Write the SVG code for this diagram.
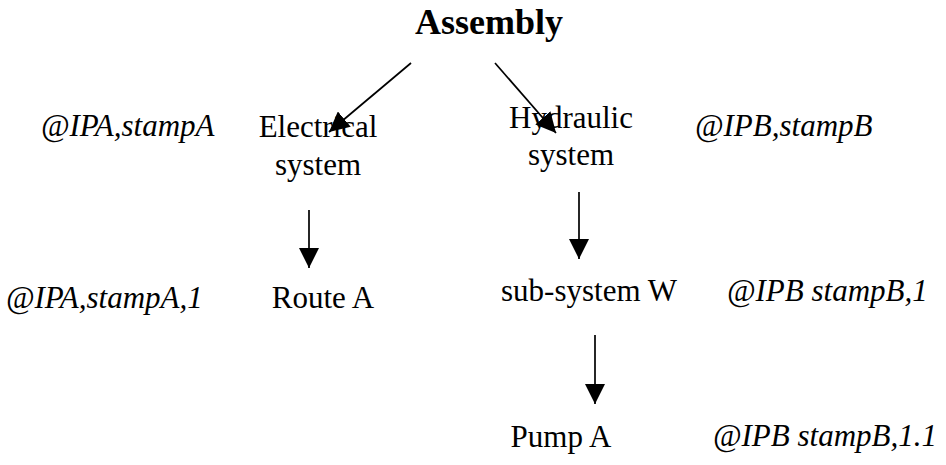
<svg xmlns="http://www.w3.org/2000/svg" width="946" height="465" viewBox="0 0 946 465">
<style>
text{font-family:"Liberation Serif","Times New Roman",serif;fill:#000}
.b{font-weight:bold;font-size:36px}
.n{font-size:31px}
.i{font-size:31px;font-style:italic}
.c{stroke:#000;stroke-width:1.7;fill:none}
</style>
<defs>
<marker id="ah" viewBox="0 0 20 20" refX="20" refY="10" markerWidth="20" markerHeight="20" markerUnits="userSpaceOnUse" orient="auto">
<path d="M0,0 L20,10 L0,20 z" fill="#000"/>
</marker>
</defs>
<rect width="946" height="465" fill="#fff"/>
<g id="connectors">
<line class="c" x1="411" y1="63" x2="329" y2="132" marker-end="url(#ah)"/>
<line class="c" x1="495" y1="63" x2="556" y2="133" marker-end="url(#ah)"/>
<line class="c" x1="309" y1="210" x2="309" y2="268" marker-end="url(#ah)"/>
<line class="c" x1="579" y1="192" x2="579" y2="259" marker-end="url(#ah)"/>
<line class="c" x1="595" y1="335" x2="595" y2="404" marker-end="url(#ah)"/>
</g>
<g id="assembly"><text class="b" x="489" y="34" text-anchor="middle">Assembly</text></g>
<g id="electrical"><text class="n" text-anchor="middle"><tspan x="318" y="137">Electrical</tspan><tspan x="318" y="175">system</tspan></text></g>
<g id="hydraulic"><text class="n" text-anchor="middle"><tspan x="571" y="128">Hydraulic</tspan><tspan x="571" y="165">system</tspan></text></g>
<g id="routeA"><text class="n" x="323" y="308" text-anchor="middle">Route A</text></g>
<g id="subsystemW"><text class="n" x="589" y="301" text-anchor="middle">sub-system W</text></g>
<g id="pumpA"><text class="n" x="561" y="447" text-anchor="middle">Pump A</text></g>
<g id="labels">
<text class="i" x="41" y="136">@IPA,stampA</text>
<text class="i" x="695" y="136">@IPB,stampB</text>
<text class="i" x="6" y="308">@IPA,stampA,1</text>
<text class="i" x="727" y="301">@IPB stampB,1</text>
<text class="i" x="713" y="446">@IPB stampB,1.1</text>
</g>
</svg>
